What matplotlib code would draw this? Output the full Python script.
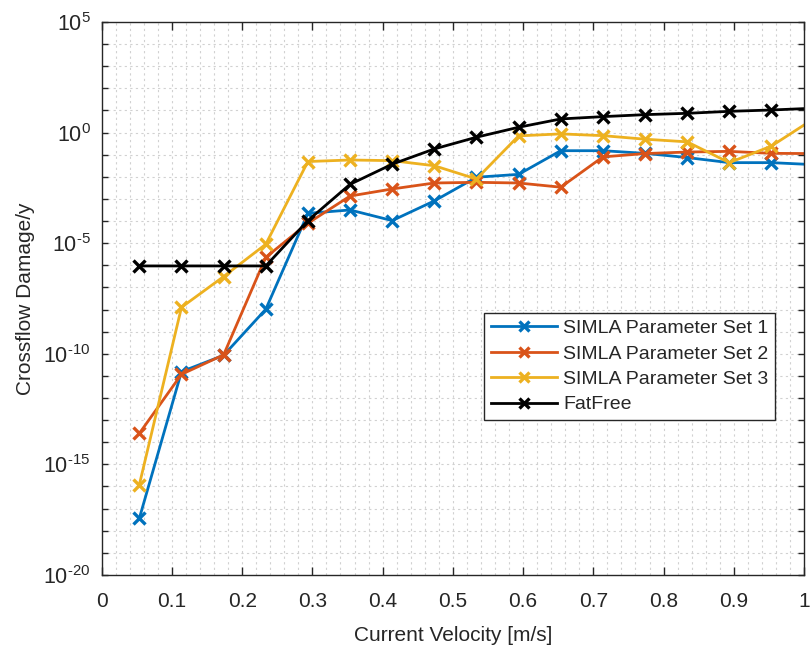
import numpy as np
import matplotlib
matplotlib.use("Agg")
import matplotlib.pyplot as plt

narrow = ['Liberation Sans Narrow', 'Liberation Sans', 'DejaVu Sans']
plt.rcParams['font.family'] = ['Liberation Sans', 'DejaVu Sans']
plt.rcParams['mathtext.fontset'] = 'custom'
plt.rcParams['mathtext.rm'] = 'Liberation Sans Narrow'
plt.rcParams['mathtext.it'] = 'Liberation Sans Narrow'
plt.rcParams['axes.unicode_minus'] = False

# Current velocity samples [m/s]
velocity = [0.0536, 0.1136, 0.1736, 0.2336, 0.2936, 0.3536, 0.4136, 0.4736,
            0.5336, 0.5936, 0.6536, 0.7136, 0.7736, 0.8336, 0.8936, 0.9536, 1.0136]

# log10 of crossflow damage per year
simla_set1 = [-17.44, -10.81, -10.07, -7.99, -3.65, -3.50, -3.98, -3.09,
              -2.02, -1.89, -0.82, -0.82, -0.94, -1.13, -1.36, -1.36, -1.45]
simla_set2 = [-13.60, -10.93, -10.05, -5.64, -4.10, -2.87, -2.55, -2.28,
              -2.25, -2.28, -2.47, -1.10, -0.95, -0.88, -0.85, -0.94, -0.95]
simla_set3 = [-15.92, -7.90, -6.51, -5.05, -1.31, -1.24, -1.27, -1.50,
              -2.10, -0.15, -0.06, -0.14, -0.30, -0.42, -1.36, -0.61, 0.62]
fatfree = [-6.03, -6.03, -6.03, -6.03, -3.98, -2.34, -1.43, -0.74,
           -0.21, 0.24, 0.615, 0.72, 0.81, 0.87, 0.96, 1.02, 1.10]

series = [
    ("SIMLA Parameter Set 1", simla_set1, (0.0, 0.447, 0.741)),
    ("SIMLA Parameter Set 2", simla_set2, (0.85, 0.325, 0.098)),
    ("SIMLA Parameter Set 3", simla_set3, (0.929, 0.694, 0.125)),
    ("FatFree", fatfree, (0.0, 0.0, 0.0)),
]

x_ticks = [0, 0.1, 0.2, 0.3, 0.4, 0.5, 0.6, 0.7, 0.8, 0.9, 1]
x_tick_labels = ["0", "0.1", "0.2", "0.3", "0.4", "0.5", "0.6", "0.7", "0.8", "0.9", "1"]
y_label_exps = [-20, -15, -10, -5, 0, 5]

dark = (0.15, 0.15, 0.15)
grid_col = (0.82, 0.82, 0.82)


def decade_label(e):
    # plain hyphen for the exponent sign
    exp_txt = str(e).replace("-", "\u2010")
    return f"$\\mathregular{{10^{{{exp_txt}}}}}$"


fig = plt.figure(figsize=(8.11, 6.46), dpi=100)
ax = fig.add_axes([0.1254, 0.110, 0.866, 0.856])

for name, vals, col in series:
    ax.plot(velocity, 10.0 ** np.array(vals), color=col, lw=2.0, marker='x',
            ms=9, mew=2.4, label=name, clip_on=True)

ax.set_yscale('log')
ax.set_xlim(0, 1)
ax.set_ylim(1e-20, 1e5)

ax.set_xticks(x_ticks)
ax.set_xticklabels(x_tick_labels, family=narrow)
ax.set_xticks(np.arange(0, 1.0001, 0.02), minor=True)

ax.set_yticks([10.0 ** e for e in range(-20, 6)])
ax.set_yticklabels([decade_label(e) if e in y_label_exps else ""
                    for e in range(-20, 6)])
ax.yaxis.set_minor_locator(matplotlib.ticker.NullLocator())

# dotted grid at every decade and every 0.02 m/s
for e in range(-19, 5):
    ax.axhline(10.0 ** e, color=grid_col, lw=0.8, ls=(0, (2, 3)), zorder=0)
for xv in np.arange(0.02, 1.0, 0.02):
    ax.axvline(xv, color=grid_col, lw=0.8, ls=(0, (2, 3)), zorder=0)

ax.tick_params(axis='x', which='major', direction='in', length=6, width=1,
               top=True, colors=dark, labelsize=15, pad=12)
ax.tick_params(axis='x', which='minor', length=0, top=True)
ax.tick_params(axis='y', which='major', direction='in', length=4, width=1,
               right=True, colors=dark, labelsize=15.5, pad=8)
for sp in ax.spines.values():
    sp.set_color(dark)
    sp.set_linewidth(1.0)

ax.set_xlabel("Current Velocity [m/s]", fontsize=15, color=dark, labelpad=11,
              family=narrow)
ax.set_ylabel("Crossflow Damage/y", fontsize=15, color=dark, labelpad=6,
              family=narrow)

leg = ax.legend(loc='upper left', bbox_to_anchor=(0.5446, 0.474), fontsize=14,
                frameon=True, fancybox=False, edgecolor=dark, framealpha=1,
                borderpad=0.35, labelspacing=0.4, handlelength=3.4,
                handletextpad=0.3, borderaxespad=0, markerscale=0.8)
leg.get_frame().set_linewidth(1.0)
for t in leg.get_texts():
    t.set_color(dark)

fig.savefig("out.png", dpi=100)
